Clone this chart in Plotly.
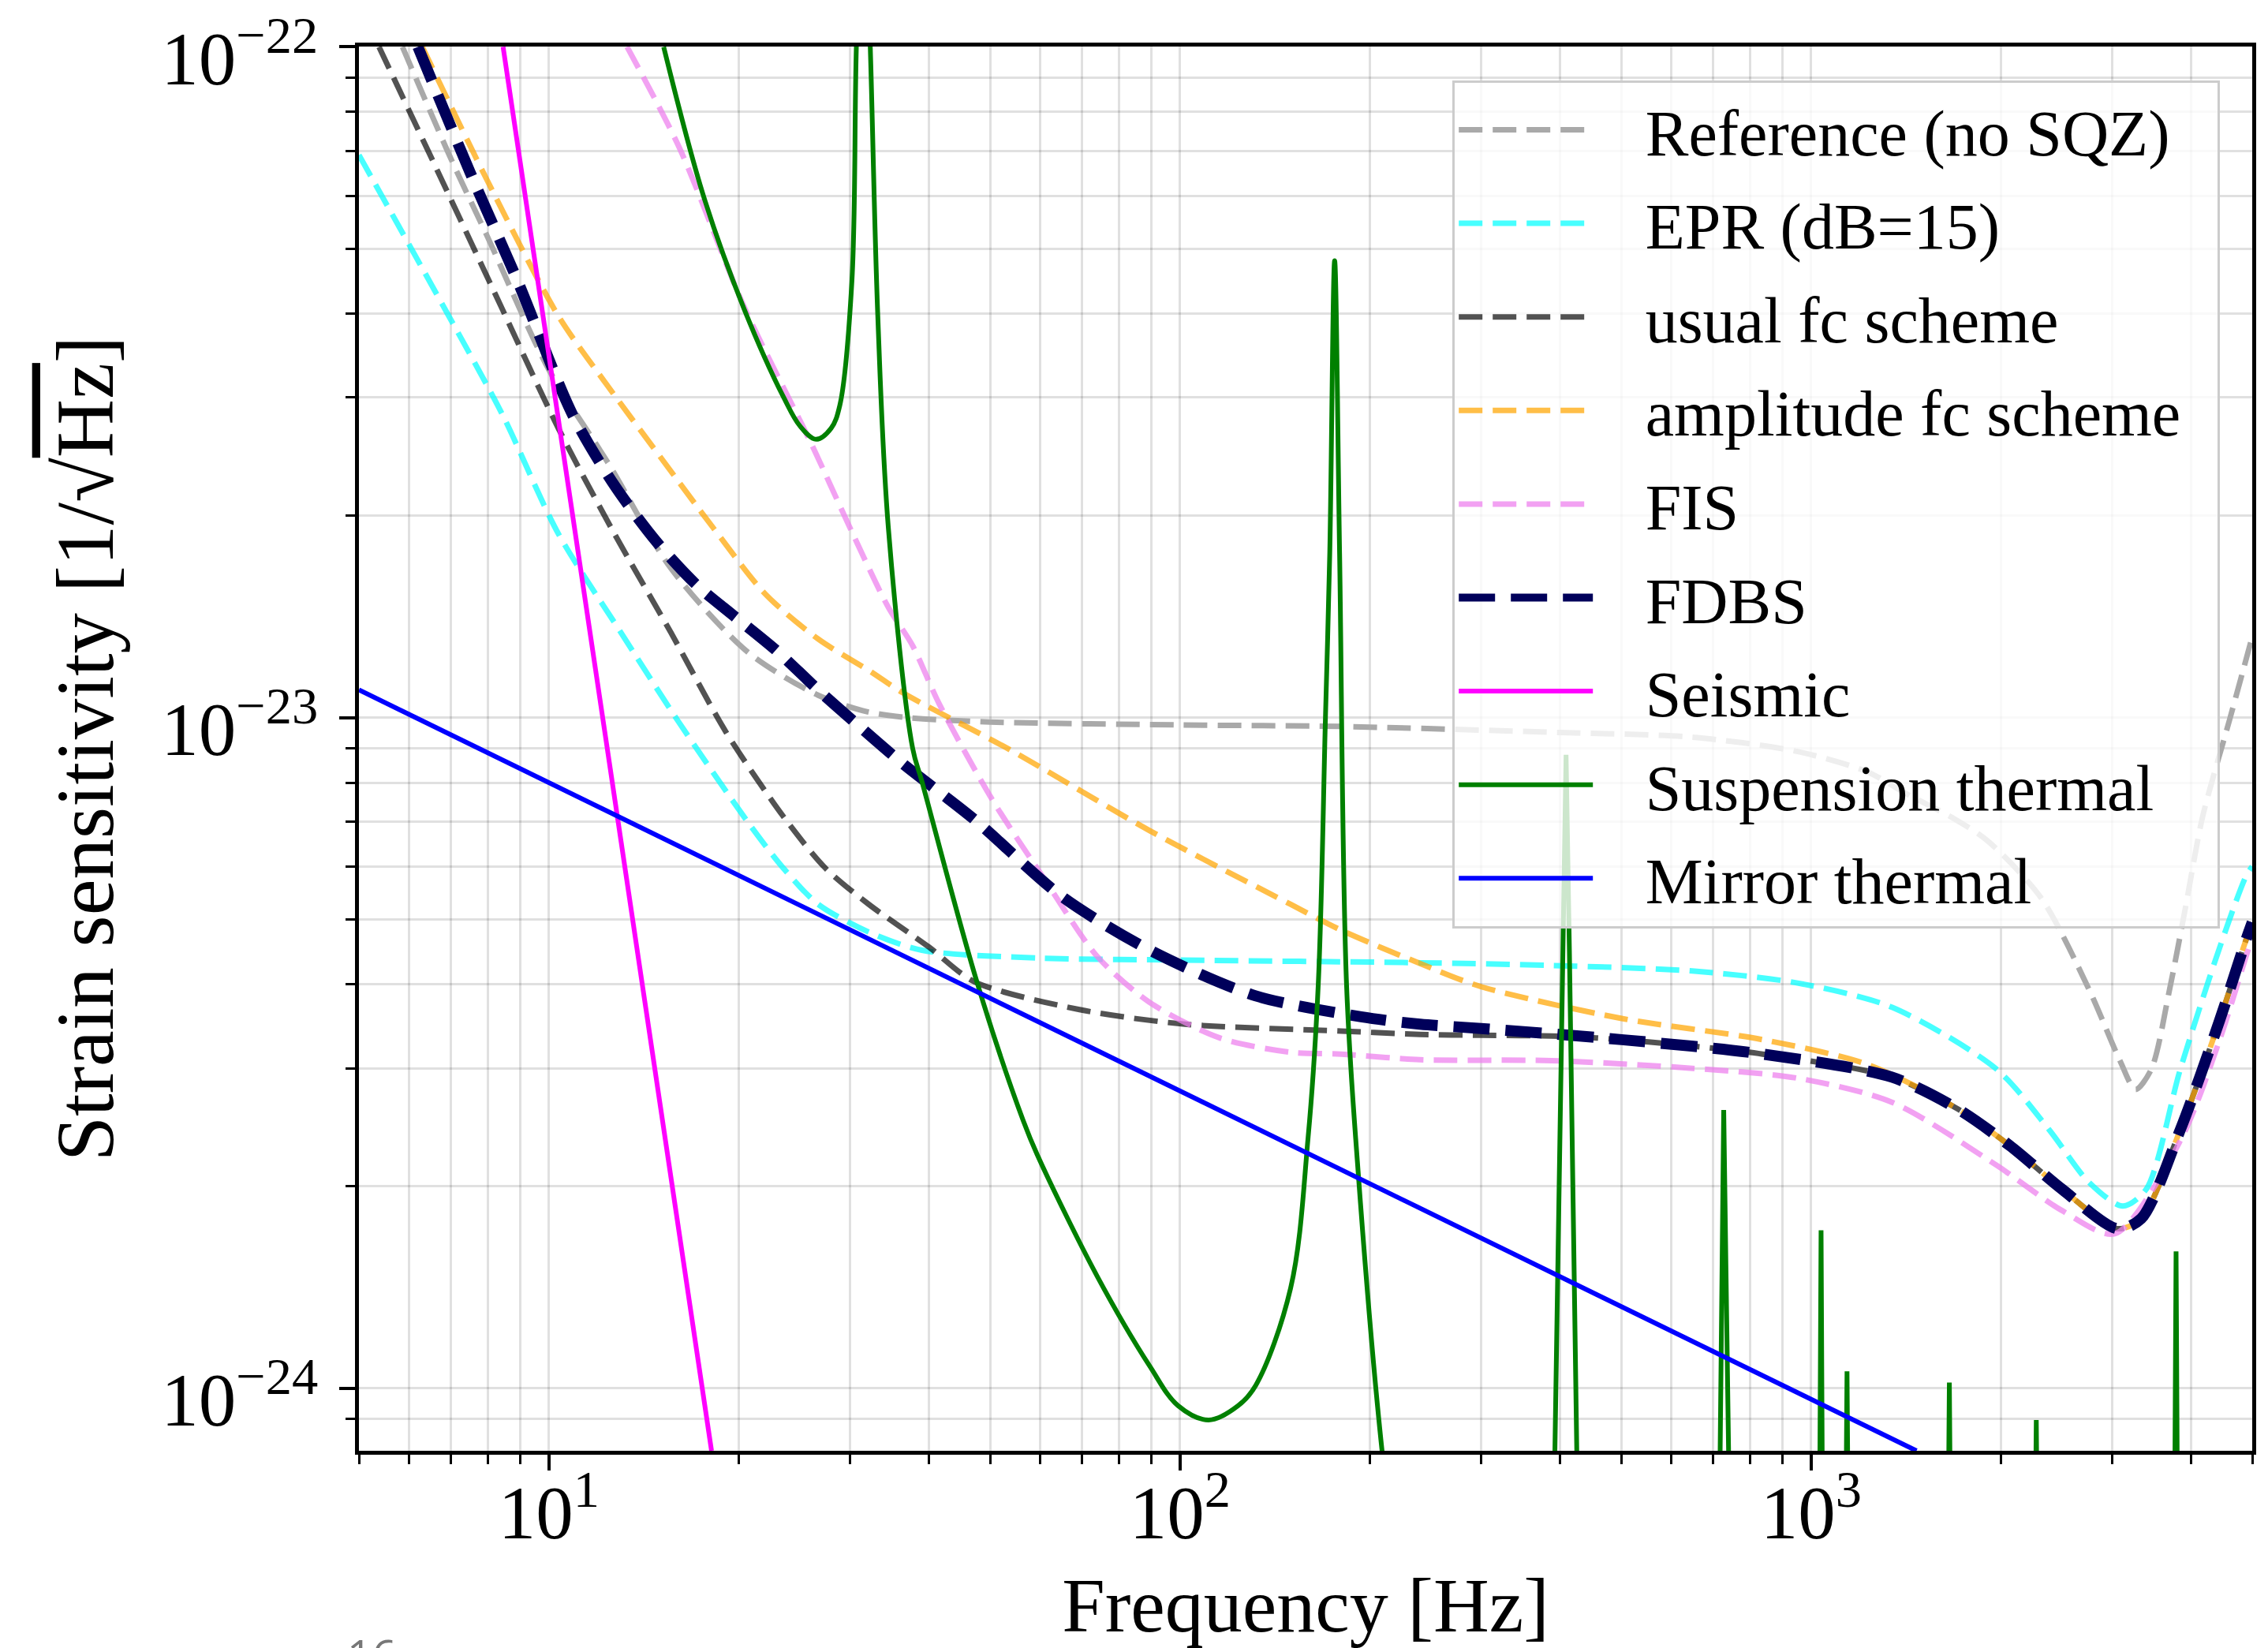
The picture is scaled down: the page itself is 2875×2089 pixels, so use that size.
import math
import plotly.graph_objects as go

# ---------------- data ----------------
ref_f = [5.86, 7.0, 8.0, 10.0, 12.4, 15.6, 20.7, 26.7, 32.0, 37.0, 50, 100, 180, 400, 648, 952,
         1228, 1415, 1670, 1900, 2316, 2754, 3086, 3266, 3460, 3700, 3918, 4170, 4600, 4853, 5000]
ref_s = [1.0e-22, 6.8e-23, 5.2e-23, 3.3e-23, 2.4e-23, 1.67e-23, 1.25e-23, 1.08e-23, 1.02e-23, 1.0e-23,
         9.85e-24, 9.75e-24, 9.7e-24, 9.5e-24, 9.35e-24, 8.9e-24, 8.3e-24, 7.7e-24, 7.1e-24, 6.56e-24,
         5.38e-24, 3.94e-24, 3.08e-24, 2.79e-24, 2.99e-24, 3.94e-24, 5.2e-24, 7.1e-24, 9.9e-24, 1.19e-23, 1.32e-23]

epr_f = [5, 6.95, 8.44, 10.35, 13.0, 16.0, 20.7, 23.5, 26.7, 32.1, 39, 60, 100, 240, 388, 648, 952,
         1343, 1968, 2383, 2754, 3118, 3396, 3846, 4436, 4887, 5000]
epr_s = [6.9e-23, 3.96e-23, 2.83e-23, 1.88e-23, 1.34e-23, 9.9e-24, 6.97e-24, 5.97e-24, 5.27e-24, 4.79e-24,
         4.5e-24, 4.38e-24, 4.35e-24, 4.31e-24, 4.27e-24, 4.19e-24, 4.02e-24, 3.7e-24, 2.99e-24, 2.43e-24,
         2.03e-24, 1.87e-24, 1.98e-24, 2.99e-24, 4.53e-24, 5.8e-24, 6.0e-24]

usual_f = [5.38, 6.5, 8.3, 10.35, 12.7, 15.6, 19.1, 23.5, 27.4, 32.1, 40, 47.2, 69.3, 101.9, 180, 240,
           300, 400, 501, 838, 1343, 1706, 2065, 2500, 3055, 3334, 3846, 4436, 4887, 5000]
usual_s = [1.0e-22, 6.86e-23, 4.2e-23, 2.7e-23, 1.88e-23, 1.34e-23, 9.5e-24, 7.13e-24, 5.97e-24, 5.27e-24,
           4.55e-24, 4.04e-24, 3.67e-24, 3.49e-24, 3.41e-24, 3.37e-24, 3.36e-24, 3.35e-24, 3.31e-24,
           3.15e-24, 2.91e-24, 2.61e-24, 2.3e-24, 1.98e-24, 1.73e-24, 1.79e-24, 2.43e-24, 3.53e-24,
           4.66e-24, 4.95e-24]

amp_f = [6.3, 8.0, 10.35, 12.4, 15.0, 18.2, 22.0, 26.7, 32.4, 36.3, 53.7, 89.6, 149.6, 180, 240, 300,
         501, 838, 1228, 1706, 2065, 2500, 3055, 3334, 3846, 4436, 4887, 5000]
amp_s = [1.0e-22, 6.3e-23, 3.97e-23, 3.12e-23, 2.45e-23, 1.92e-23, 1.53e-23, 1.31e-23, 1.17e-23, 1.09e-23,
         8.96e-24, 6.78e-24, 5.27e-24, 4.82e-24, 4.3e-24, 3.97e-24, 3.56e-24, 3.31e-24, 3.04e-24,
         2.61e-24, 2.3e-24, 1.98e-24, 1.73e-24, 1.79e-24, 2.43e-24, 3.53e-24, 4.66e-24, 4.95e-24]

fis_f = [13.3, 16.1, 20.4, 26.0, 30.3, 34.5, 37.7, 41.5, 50.3, 61, 74, 89.6, 115.6, 149.6, 180, 240,
         388, 648, 952, 1343, 1968, 2500, 3027, 3846, 4436, 4887, 5000]
fis_s = [1.0e-22, 7.07e-23, 4.09e-23, 2.57e-23, 1.88e-23, 1.46e-23, 1.28e-23, 1.05e-23, 7.57e-24,
         5.74e-24, 4.4e-24, 3.76e-24, 3.33e-24, 3.17e-24, 3.15e-24, 3.09e-24, 3.08e-24, 3.0e-24, 2.9e-24,
         2.67e-24, 2.15e-24, 1.84e-24, 1.7e-24, 2.34e-24, 3.3e-24, 4.4e-24, 4.7e-24]

fdbs_f = [6.2, 7.5, 8.9, 10.9, 12.7, 14.8, 17.1, 19.6, 22.9, 26.7, 30.3, 36.3, 47.2, 65, 89.6, 131.5,
          193.6, 240, 300, 501, 838, 1343, 1706, 2065, 2500, 3055, 3334, 3846, 4436, 4887, 5000]
fdbs_s = [1.0e-22, 6.5e-23, 4.5e-23, 2.83e-23, 2.22e-23, 1.83e-23, 1.58e-23, 1.42e-23, 1.26e-23,
          1.1e-23, 9.9e-24, 8.55e-24, 7.05e-24, 5.41e-24, 4.5e-24, 3.85e-24, 3.58e-24, 3.49e-24,
          3.44e-24, 3.31e-24, 3.15e-24, 2.91e-24, 2.61e-24, 2.3e-24, 1.98e-24, 1.73e-24, 1.79e-24,
          2.43e-24, 3.53e-24, 4.66e-24, 4.95e-24]

seis_f = [8.46, 18.1]
seis_s = [1.0e-22, 8.07e-25]

mirror_f = [5, 1469]
mirror_s = [1.10e-23, 8.07e-25]

susp_f = [15.2, 17.6, 20.4, 23.6, 25.0, 26.5, 28.0, 28.9, 30.2, 30.7, 31.5, 32.3, 33.2, 34.5, 37.7,
          39.0, 47.8, 56.5, 59.4, 73.9, 89.5, 99.3, 111, 123.6, 131.8, 149.7, 159.6, 165.6, 170.0, 172.7,
          175.8, 179.0, 183.6, 191, 209, 230]
susp_s = [1.0e-22, 5.97e-23, 4.06e-23, 2.99e-23, 2.72e-23, 2.6e-23, 2.7e-23, 2.92e-23, 4.46e-23,
          1.0e-22, 2.0e-22, 1.0e-22, 3.97e-23, 1.92e-23, 9.0e-24, 8.03e-24, 4.0e-24, 2.5e-24, 2.23e-24,
          1.47e-24, 1.08e-24, 9.42e-25, 8.97e-25, 9.42e-25, 1.01e-24, 1.41e-24, 2.37e-24, 4.0e-24,
          1.0e-23, 1.76e-23, 4.8e-23, 1.76e-23, 4.0e-24, 2.18e-24, 8.07e-25, 4.0e-25]

peak_f = [388, 398, 404, 409, 414, 419, 430,
          712, 722, 727, 733, 748,
          1029, 1037, 1045,
          1131, 1140, 1149,
          1643, 1656, 1669,
          2256, 2274, 2292,
          3757, 3787, 3817]
peak_s = [4e-25, 2.0e-24, 4.5e-24, 8.8e-24, 4.5e-24, 2.0e-24, 4e-25,
          4e-25, 1.5e-24, 2.6e-24, 1.5e-24, 4e-25,
          4e-25, 1.72e-24, 4e-25,
          4e-25, 1.06e-24, 4e-25,
          4e-25, 1.02e-24, 4e-25,
          4e-25, 8.97e-25, 4e-25,
          4e-25, 1.6e-24, 4e-25]

x_major = [10, 100, 1000]
x_major_text = ["10<sup>1</sup>", "10<sup>2</sup>", "10<sup>3</sup>"]
x_minor = [5, 6, 7, 8, 9, 20, 30, 40, 50, 60, 70, 80, 90, 200, 300, 400, 500, 600, 700, 800, 900,
           2000, 3000, 4000, 5000]
y_major = [1e-24, 1e-23, 1e-22]
y_major_text = ["10<sup>\u221224</sup>", "10<sup>\u221223</sup>", "10<sup>\u221222</sup>"]
y_minor = [9e-25, 2e-24, 3e-24, 4e-24, 5e-24, 6e-24, 7e-24, 8e-24, 9e-24,
           2e-23, 3e-23, 4e-23, 5e-23, 6e-23, 7e-23, 8e-23, 9e-23]

x_range = [5, 5000]
y_range = [8.07e-25, 1e-22]

# ---------------- figure ----------------
fig = go.Figure()

THIN = 7
SOLID = 6
DASH_THIN = "30px,13px"
DASH_THICK = "46px,20px"
PAD = "\u00a0\u00a0\u00a0"
TAIL = "\u00a0\u00a0"


def dashed(name, xs, ys, color, width=THIN, dash=DASH_THIN):
    fig.add_trace(go.Scatter(x=xs, y=ys, name=PAD + name + TAIL, mode="lines", legendgroup=name,
                             line=dict(color=color, width=width, dash=dash, shape="spline", smoothing=0.8)))


dashed("Reference (no SQZ)", ref_f, ref_s, "#a9a9a9")
dashed("EPR (dB=15)", epr_f, epr_s, "rgba(0,255,255,0.72)")
dashed("usual fc scheme", usual_f, usual_s, "rgba(0,0,0,0.68)")
dashed("amplitude fc scheme", amp_f, amp_s, "rgba(255,165,0,0.72)")
dashed("FIS", fis_f, fis_s, "rgba(238,130,238,0.75)")
dashed("FDBS", fdbs_f, fdbs_s, "#00005a", width=14, dash=DASH_THICK)

fig.add_trace(go.Scatter(x=seis_f, y=seis_s, name=PAD + "Seismic" + TAIL, mode="lines", legendgroup="seis",
                         line=dict(color="#ff00ff", width=SOLID)))
fig.add_trace(go.Scatter(x=susp_f, y=susp_s, name=PAD + "Suspension thermal" + TAIL, mode="lines",
                         legendgroup="susp",
                         line=dict(color="#008000", width=SOLID, shape="spline", smoothing=1.0)))
fig.add_trace(go.Scatter(x=peak_f, y=peak_s, name="Suspension thermal", mode="lines", legendgroup="susp",
                         showlegend=False, line=dict(color="#008000", width=SOLID)))
fig.add_trace(go.Scatter(x=mirror_f, y=mirror_s, name=PAD + "Mirror thermal" + TAIL, mode="lines",
                         legendgroup="mirror", line=dict(color="#0000ff", width=SOLID)))

grid_col = "rgba(0,0,0,0.12)"

fig.update_xaxes(
    type="log", range=[math.log10(x_range[0]), math.log10(x_range[1])],
    tickmode="array", tickvals=x_major, ticktext=x_major_text,
    ticks="outside", ticklen=20, tickwidth=3.5, tickcolor="black",
    showline=True, linecolor="black", linewidth=4.5, mirror=True,
    showgrid=True, gridcolor=grid_col, gridwidth=2.5, zeroline=False,
    tickfont=dict(size=95), ticklabelstandoff=-28, ticklabeloverflow="allow",
    title=dict(text="Frequency [Hz]", font=dict(size=98), standoff=58),
    minor=dict(tickmode="array", tickvals=x_minor, ticks="outside", ticklen=12, tickwidth=2.5,
               tickcolor="black", showgrid=True, gridcolor=grid_col, gridwidth=2.5),
)
fig.update_yaxes(
    type="log", range=[math.log10(y_range[0]), math.log10(y_range[1]) + 0.0005],
    tickmode="array", tickvals=y_major, ticktext=y_major_text,
    ticks="outside", ticklen=20, tickwidth=3.5, tickcolor="black",
    showline=True, linecolor="black", linewidth=4.5, mirror=True,
    showgrid=True, gridcolor=grid_col, gridwidth=2.5, zeroline=False,
    tickfont=dict(size=95), ticklabelstandoff=8, ticklabelshift=14, ticklabeloverflow="allow",
    title=dict(text="Strain sensitivity [1/\u221a<span style='text-decoration:overline'>Hz</span>]",
               font=dict(size=103), standoff=28),
    minor=dict(tickmode="array", tickvals=y_minor, ticks="outside", ticklen=12, tickwidth=2.5,
               tickcolor="black", showgrid=True, gridcolor=grid_col, gridwidth=2.5),
)

fig.update_layout(
    width=2875, height=2089,
    margin=dict(l=455, r=20, t=59, b=250, autoexpand=False),
    paper_bgcolor="white", plot_bgcolor="white",
    font=dict(family="Liberation Serif", size=95, color="black"),
    showlegend=True,
    legend=dict(x=0.983, y=0.976, xanchor="right", yanchor="top",
                bgcolor="rgba(255,255,255,0.8)", bordercolor="#cccccc", borderwidth=3,
                font=dict(size=82), itemwidth=170, tracegroupgap=9, traceorder="grouped"),
)

fig.add_annotation(text="16", xref="paper", yref="paper", x=0.0067, y=-0.1225,
                   xanchor="center", yanchor="top", showarrow=False,
                   font=dict(family="Open Sans", size=55, color="#777777"))

fig.write_html("out.html")
